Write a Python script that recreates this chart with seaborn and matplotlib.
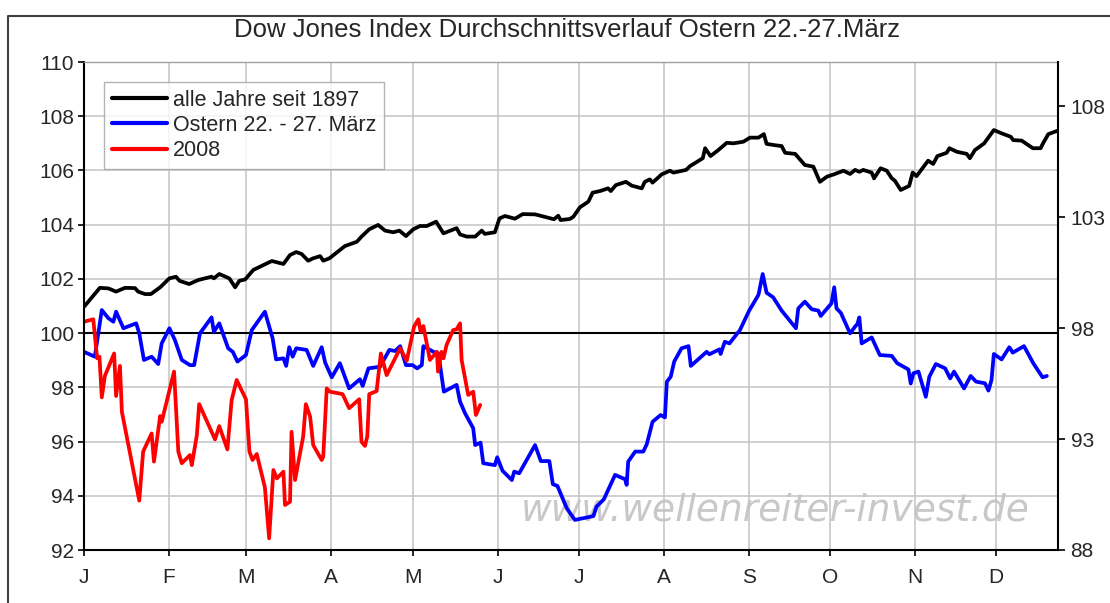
import matplotlib
matplotlib.use("Agg")
import matplotlib.pyplot as plt
import matplotlib.lines as mlines
import seaborn as sns
import pandas as pd

# ---------------- data (x = trading day of year, y = index value) ----------------
month_pos = [0, 22, 42, 64, 85, 107, 128, 150, 172, 193, 215, 236]
month_labels = ["J", "F", "M", "A", "M", "J", "J", "A", "S", "O", "N", "D"]
left_ticks = [92, 94, 96, 98, 100, 102, 104, 106, 108, 110]
right_ticks = [88, 93, 98, 103, 108]

all_x = [0, 4.1, 6.3, 8.3, 10.6, 13.2, 14.0, 15.8, 17.3, 19.7, 22.1, 23.8, 24.7, 27.2, 29.6,
         33.0, 33.6, 35.0, 37.6, 39.1, 40.2, 41.7, 43.8, 46.0, 48.6, 51.6, 53.3, 54.9, 56.3,
         58.0, 59.3, 61.1, 61.9, 63.5, 67.5, 70.6, 71.8, 73.8, 76.1, 77.9, 80.0, 81.6, 83.3,
         85.2, 86.9, 88.7, 91.1, 93.0, 96.4, 97.3, 99.0, 101.2, 102.9, 103.7, 106.3, 107.5,
         108.9, 111.5, 113.5, 116.7, 119.7, 121.6, 122.7, 123.3, 125.7, 126.6, 128.3, 130.5,
         131.6, 133.5, 135.6, 136.3, 137.6, 140.2, 141.7, 144.3, 145.1, 146.4, 147.1, 149.5,
         151.6, 152.5, 155.8, 156.8, 160.1, 160.7, 162.1, 164.1, 166.3, 168.0, 170.6, 172.3,
         174.5, 175.9, 176.6, 178.8, 180.5, 181.4, 184.0, 186.5, 188.7, 190.4, 192.2, 194.3,
         196.5, 198.2, 199.5, 200.6, 201.6, 203.8, 204.4, 206.1, 207.7, 209.0, 209.8, 211.3,
         213.5, 214.4, 215.4, 218.4, 219.7, 220.8, 223.2, 223.9, 225.8, 228.4, 229.2, 230.5,
         232.9, 235.4, 237.4, 239.8, 240.4, 242.6, 245.5, 247.5, 248.2, 249.5, 252.0]
all_y = [100.97, 101.67, 101.65, 101.53, 101.67, 101.66, 101.53, 101.44, 101.44, 101.69, 102.02,
         102.08, 101.93, 101.81, 101.96, 102.08, 102.02, 102.18, 102.02, 101.69, 101.93, 101.98,
         102.33, 102.48, 102.66, 102.55, 102.88, 102.99, 102.92, 102.67, 102.76, 102.84, 102.67,
         102.76, 103.21, 103.37, 103.56, 103.83, 103.99, 103.78, 103.72, 103.78, 103.58, 103.83,
         103.95, 103.95, 104.11, 103.68, 103.87, 103.64, 103.56, 103.56, 103.78, 103.66, 103.72,
         104.23, 104.32, 104.22, 104.39, 104.38, 104.27, 104.20, 104.33, 104.17, 104.21, 104.29,
         104.64, 104.85, 105.18, 105.24, 105.34, 105.24, 105.46, 105.58, 105.44, 105.34, 105.58,
         105.67, 105.55, 105.86, 105.99, 105.92, 106.02, 106.16, 106.45, 106.82, 106.53, 106.75,
         107.02, 107.00, 107.06, 107.21, 107.21, 107.34, 106.98, 106.93, 106.90, 106.65, 106.61,
         106.20, 106.14, 105.58, 105.77, 105.87, 105.99, 105.87, 106.02, 105.95, 106.02, 105.92,
         105.71, 106.08, 105.99, 105.71, 105.62, 105.28, 105.43, 105.92, 105.79, 106.36, 106.24,
         106.53, 106.65, 106.82, 106.69, 106.61, 106.45, 106.75, 107.00, 107.49, 107.37, 107.24,
         107.12, 107.10, 106.82, 106.82, 107.02, 107.34, 107.47]

easter_x = [0, 2.8, 4.6, 6.3, 7.6, 8.3, 10.2, 13.5, 14.3, 15.5, 17.5, 19.2, 20.1, 22.1, 23.5,
            25.3, 27.4, 28.5, 30.0, 33.0, 33.6, 35.0, 37.3, 38.5, 39.7, 41.9, 43.4, 46.8, 48.8,
            49.7, 51.6, 52.3, 53.1, 54.0, 54.9, 57.6, 59.3, 61.5, 62.4, 64.1, 66.2, 68.6, 71.4,
            72.1, 73.6, 76.6, 79.0, 80.5, 81.8, 83.3, 85.0, 86.2, 87.4, 87.8, 90.4, 91.7, 93.1,
            96.4, 97.3, 98.6, 100.7, 101.2, 102.6, 103.3, 106.3, 106.9, 108.3, 110.7, 111.3,
            112.6, 116.7, 118.2, 120.4, 121.3, 122.5, 124.9, 127.0, 131.8, 132.6, 134.5, 137.4,
            140.0, 140.4, 140.8, 142.6, 144.7, 145.6, 147.1, 149.2, 150.3, 150.8, 151.8, 152.7,
            154.6, 156.4, 157.0, 161.1, 161.8, 164.4, 164.7, 165.8, 167.0, 169.7, 172.1, 174.5,
            175.6, 176.6, 178.3, 180.5, 184.2, 184.8, 186.5, 188.3, 190.0, 190.6, 193.4, 194.1,
            194.7, 195.8, 198.2, 199.5, 200.1, 200.6, 201.2, 203.8, 205.9, 209.0, 210.4, 213.3,
            213.9, 214.6, 215.9, 217.8, 218.7, 220.4, 222.8, 224.1, 225.1, 227.7, 229.4, 230.8,
            233.1, 234.0, 234.8, 235.4, 237.4, 239.4, 240.3, 243.2, 245.6, 248.0, 249.1]
easter_y = [99.31, 99.13, 100.85, 100.55, 100.42, 100.79, 100.18, 100.36, 99.99, 99.01, 99.13,
            98.86, 99.62, 100.18, 99.75, 99.01, 98.82, 98.82, 99.99, 100.58, 100.05, 100.36,
            99.44, 99.31, 98.95, 99.19, 100.11, 100.79, 99.81, 99.03, 99.07, 98.79, 99.48, 99.13,
            99.44, 99.38, 98.79, 99.48, 98.91, 98.37, 98.89, 97.96, 98.30, 98.05, 98.70, 98.76,
            99.38, 99.34, 99.52, 98.82, 98.82, 98.70, 98.82, 99.52, 99.31, 99.25, 97.84, 98.09,
            97.47, 97.04, 96.49, 95.87, 95.96, 95.20, 95.13, 95.42, 94.92, 94.58, 94.89, 94.83,
            95.87, 95.28, 95.28, 94.43, 94.36, 93.54, 93.11, 93.25, 93.60, 93.87, 94.77, 94.61,
            94.40, 95.26, 95.63, 95.63, 95.90, 96.73, 96.98, 96.89, 98.21, 98.39, 98.95, 99.44,
            99.52, 98.79, 99.31, 99.22, 99.40, 99.23, 99.68, 99.62, 100.11, 100.83, 101.41,
            102.18, 101.49, 101.32, 100.83, 100.18, 100.91, 101.16, 100.88, 100.83, 100.63,
            101.10, 101.69, 100.91, 100.75, 99.99, 100.24, 100.34, 100.58, 99.62, 99.84, 99.19,
            99.16, 98.89, 98.66, 98.14, 98.52, 98.58, 97.65, 98.39, 98.86, 98.70, 98.33, 98.58,
            97.96, 98.42, 98.21, 98.15, 97.88, 98.27, 99.23, 99.03, 99.48, 99.28, 99.52, 98.89,
            98.37, 98.42]

y2008_x = [0, 2.4, 3.4, 4.0, 4.6, 5.4, 7.8, 8.3, 9.3, 9.8, 14.3, 15.3, 17.5, 18.1, 19.7, 20.1,
           23.3, 24.4, 25.3, 27.4, 27.9, 29.2, 29.8, 33.9, 35.0, 37.1, 38.2, 39.5, 41.9, 42.8,
           43.6, 44.7, 46.8, 47.9, 49.0, 49.9, 51.6, 52.0, 53.3, 53.7, 54.6, 56.7, 57.4, 58.5,
           59.3, 61.5, 61.9, 62.8, 63.6, 66.9, 68.6, 71.2, 71.8, 72.7, 73.3, 73.8, 75.7, 76.8,
           78.3, 81.8, 83.5, 85.4, 86.5, 87.1, 87.8, 89.5, 91.3, 91.6, 92.5, 93.0, 93.8, 95.5,
           96.4, 97.3, 97.7, 99.4, 100.7, 101.4, 102.5]
y2008_y = [100.42, 100.51, 99.07, 99.13, 97.63, 98.42, 99.25, 97.68, 98.79, 97.10, 93.82, 95.63,
           96.30, 95.26, 96.94, 96.73, 98.58, 95.63, 95.20, 95.50, 95.13, 96.24, 97.38, 96.08,
           96.57, 95.71, 97.53, 98.27, 97.56, 95.63, 95.32, 95.54, 94.31, 92.43, 94.95, 94.64,
           94.89, 93.66, 93.78, 96.36, 94.58, 96.18, 97.38, 96.92, 95.87, 95.32, 95.44, 97.96,
           97.84, 97.75, 97.23, 97.56, 95.99, 95.84, 96.20, 97.75, 97.86, 99.25, 98.45, 99.44,
           98.98, 100.24, 100.51, 100.05, 100.26, 99.01, 99.31, 98.58, 99.31, 99.07, 99.56,
           100.11, 100.14, 100.36, 99.01, 97.72, 97.84, 96.98, 97.35]

series_names = ["alle Jahre seit 1897", "Ostern 22. - 27. März", "2008"]
series_colors = ["#000000", "#0000ff", "#ff0000"]

# ---------------- figure ----------------
sns.set_style("white")
plt.rcParams["font.family"] = ["Liberation Sans", "DejaVu Sans"]

W, H = 1110, 603
fig = plt.figure(figsize=(W / 100, H / 100), dpi=100)
ax = fig.add_axes([84 / W, 1 - 550 / H, (1058 - 84) / W, (550 - 62) / H])

frames = []
for name, xs, ys in zip(series_names, [all_x, easter_x, y2008_x], [all_y, easter_y, y2008_y]):
    frames.append(pd.DataFrame({"tag": xs, "wert": ys, "serie": name}))
df = pd.concat(frames, ignore_index=True)

ax.text(0.971, 0.045, "www.wellenreiter-invest.de", transform=ax.transAxes, ha="right",
        va="bottom", fontsize=27, style="italic", color="#c8c8c8",
        family=["DejaVu Sans"], zorder=0.5)

sns.lineplot(data=df, x="tag", y="wert", hue="serie", hue_order=series_names,
             palette=series_colors, estimator=None, sort=False, linewidth=2.7, ax=ax,
             legend=False)

ax.axhline(100, color="black", linewidth=1.5, zorder=1.5)

ax.set_xlim(0, 252)
ax.set_ylim(92, 110)
ax.set_xticks(month_pos)
ax.set_xticklabels(month_labels)
ax.set_yticks(left_ticks)
ax.set_xlabel("")
ax.set_ylabel("")
ax.grid(True, color="#c4c4c4", linewidth=1.1)
ax.set_axisbelow(True)
ax.tick_params(axis="both", which="major", direction="out", length=4, width=1.2,
               color="black", labelsize=15, pad=3, left=True, bottom=True)
ax.tick_params(axis="x", pad=9)
for side in ["left", "bottom"]:
    ax.spines[side].set_color("black")
    ax.spines[side].set_linewidth(1.5)
ax.spines["top"].set_color("#a0a0a0")
ax.spines["top"].set_linewidth(1.0)
ax.spines["right"].set_visible(False)

ax2 = ax.twinx()
ax2.set_ylim(88, 110)
ax2.set_yticks(right_ticks)
ax2.tick_params(axis="y", direction="out", length=5, width=1.2, color="black",
                labelsize=15, pad=4, right=True)
ax2.spines["right"].set_color("black")
ax2.spines["right"].set_linewidth(1.5)
for side in ["left", "top", "bottom"]:
    ax2.spines[side].set_visible(False)
ax2.grid(False)

handles = [mlines.Line2D([], [], color=c, linewidth=3) for c in series_colors]
leg = ax.legend(handles, series_names, loc="upper left", bbox_to_anchor=(0.0205, 0.959),
                borderaxespad=0, fontsize=15.5, frameon=True, fancybox=False,
                handlelength=2.6, handletextpad=0.25, labelspacing=0.2, borderpad=0.35)
leg.get_frame().set_edgecolor("#a0a0a0")
leg.get_frame().set_linewidth(1.0)

fig.text(567 / W, 1 - 30 / H, "Dow Jones Index Durchschnittsverlauf Ostern 22.-27.März",
         ha="center", va="center", fontsize=18.5)

fig.add_artist(mlines.Line2D([8 / W, 8 / W, 1.0], [0.0, 1 - 16 / H, 1 - 16 / H],
                             transform=fig.transFigure, color="#404040", linewidth=1.5))

fig.savefig("out.png", dpi=100)
